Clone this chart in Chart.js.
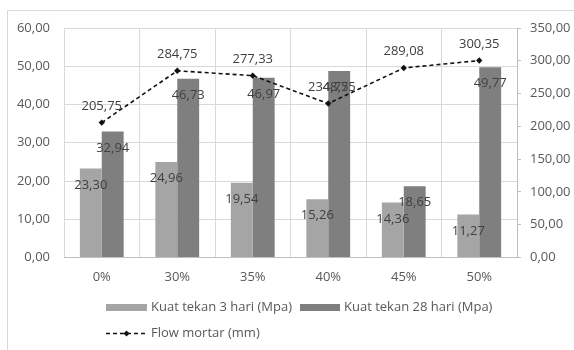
<!DOCTYPE html>
<html>
<head>
<meta charset="utf-8">
<script src="https://cdn.jsdelivr.net/npm/chart.js@4.4.1/dist/chart.umd.min.js"></script>
<style>
  html, body { margin: 0; padding: 0; background: #fff; }
  #wrap { position: relative; width: 574px; height: 350px; overflow: hidden; }
  #frame { position: absolute; left: 7px; top: 10px; width: 640px; height: 420px; border: 1px solid #d9d9d9; }
  canvas { position: absolute; left: 0; top: 0; }
</style>
</head>
<body>
<div id="wrap">
  <div id="frame"></div>
  <canvas id="c" width="574" height="350"></canvas>
</div>
<script>
// Replacement levels on the category axis
const categories = ['0%', '30%', '35%', '40%', '45%', '50%'];
// Compressive strength (MPa)
const kuat3Hari = [23.30, 24.96, 19.54, 15.26, 14.36, 11.27];
const kuat28Hari = [32.94, 46.73, 46.97, 48.75, 18.65, 49.77];
// Mortar flow (mm), right axis
const flowMortar = [205.75, 284.75, 277.33, 234.75, 289.08, 300.35];
const seriesNames = ['Kuat tekan 3 hari (Mpa)', 'Kuat tekan 28 hari (Mpa)', 'Flow mortar (mm)'];
// Axis ranges
const leftAxis = { min: 0, max: 60, step: 10 };
const rightAxis = { min: 0, max: 350, step: 50 };

const FONT_FAMILY = '"Open Sans", "Liberation Sans", sans-serif';
const FONT_SIZE = 13;
const AXIS_TEXT = '#595959';
const LABEL_TEXT = '#404040';
const LIGHT_BAR = '#a5a5a5';
const DARK_BAR = '#7f7f7f';

const fmt = v => Number(v).toFixed(2).replace('.', ',');

// Value labels: inside the top of each bar, above each line point
const valueLabels = {
  id: 'valueLabels',
  afterDatasetsDraw(chart) {
    const ctx = chart.ctx;
    ctx.save();
    ctx.font = FONT_SIZE + 'px ' + FONT_FAMILY;
    ctx.fillStyle = LABEL_TEXT;
    ctx.textAlign = 'center';
    ctx.textBaseline = 'middle';
    chart.data.datasets.forEach((ds, i) => {
      const meta = chart.getDatasetMeta(i);
      meta.data.forEach((el, j) => {
        const text = fmt(ds.data[j]);
        if (meta.type === 'bar') {
          ctx.fillText(text, el.x, el.y + 16.5);
        } else {
          ctx.fillText(text, el.x, el.y - 16.5);
        }
      });
    });
    ctx.restore();
  }
};

// Legend laid out in two rows below the plot
const legendRows = {
  id: 'legendRows',
  afterDraw(chart) {
    const ctx = chart.ctx;
    const ds = chart.data.datasets;
    ctx.save();
    ctx.font = FONT_SIZE + 'px ' + FONT_FAMILY;
    ctx.fillStyle = AXIS_TEXT;
    ctx.textAlign = 'left';
    ctx.textBaseline = 'middle';

    // row 1: bar swatches
    ctx.fillStyle = ds[0].backgroundColor;
    ctx.fillRect(106, 304, 41, 7);
    ctx.fillStyle = AXIS_TEXT;
    ctx.fillText(ds[0].label, 151, 307.5);

    ctx.fillStyle = ds[1].backgroundColor;
    ctx.fillRect(300, 304, 40, 7);
    ctx.fillStyle = AXIS_TEXT;
    ctx.fillText(ds[1].label, 344, 307.5);

    // row 2: dashed line with diamond marker
    ctx.strokeStyle = ds[2].borderColor;
    ctx.lineWidth = ds[2].borderWidth;
    ctx.setLineDash(ds[2].borderDash);
    ctx.beginPath();
    ctx.moveTo(106, 333.5);
    ctx.lineTo(147, 333.5);
    ctx.stroke();
    ctx.setLineDash([]);
    ctx.fillStyle = ds[2].pointBackgroundColor;
    const cx = 126.5, cy = 333.5, r = 3;
    ctx.beginPath();
    ctx.moveTo(cx, cy - r);
    ctx.lineTo(cx + r, cy);
    ctx.lineTo(cx, cy + r);
    ctx.lineTo(cx - r, cy);
    ctx.closePath();
    ctx.fill();
    ctx.fillStyle = AXIS_TEXT;
    ctx.fillText(ds[2].label, 151, 333.5);
    ctx.restore();
  }
};

const tickFont = { family: FONT_FAMILY, size: FONT_SIZE };

new Chart(document.getElementById('c'), {
  data: {
    labels: categories,
    datasets: [
      {
        type: 'bar',
        label: seriesNames[0],
        data: kuat3Hari,
        backgroundColor: LIGHT_BAR,
        yAxisID: 'y',
        barPercentage: 1.0,
        categoryPercentage: 0.58,
        order: 2
      },
      {
        type: 'bar',
        label: seriesNames[1],
        data: kuat28Hari,
        backgroundColor: DARK_BAR,
        yAxisID: 'y',
        barPercentage: 1.0,
        categoryPercentage: 0.58,
        order: 2
      },
      {
        type: 'line',
        label: seriesNames[2],
        data: flowMortar,
        yAxisID: 'y1',
        borderColor: '#111111',
        borderWidth: 1.6,
        borderDash: [4, 3],
        pointStyle: 'rectRot',
        pointRadius: 3.2,
        pointBackgroundColor: '#111111',
        pointBorderColor: '#111111',
        pointBorderWidth: 0,
        tension: 0,
        fill: false,
        order: 0
      }
    ]
  },
  options: {
    responsive: false,
    animation: false,
    layout: { padding: { top: 28, left: 0, right: 0, bottom: 0 } },
    plugins: { legend: { display: false }, tooltip: { enabled: false } },
    scales: {
      x: {
        offset: true,
        grid: { color: '#d9d9d9', drawTicks: false, offset: true },
        border: { color: '#bfbfbf' },
        ticks: { color: AXIS_TEXT, font: tickFont, padding: 12 },
        afterFit(s) { s.height = 92.5; }
      },
      y: {
        position: 'left',
        min: leftAxis.min,
        max: leftAxis.max,
        ticks: { stepSize: leftAxis.step, color: AXIS_TEXT, font: tickFont, padding: 14, callback: v => fmt(v) },
        grid: { color: '#d9d9d9', drawTicks: false },
        border: { display: false },
        afterFit(s) { s.width = 64; }
      },
      y1: {
        position: 'right',
        min: rightAxis.min,
        max: rightAxis.max,
        ticks: { stepSize: rightAxis.step, color: AXIS_TEXT, font: tickFont, padding: 9, callback: v => fmt(v) },
        grid: { drawOnChartArea: false, color: '#bfbfbf', tickLength: 4 },
        border: { color: '#bfbfbf' },
        afterFit(s) { s.width = 57; }
      }
    }
  },
  plugins: [valueLabels, legendRows]
});
</script>
</body>
</html>
